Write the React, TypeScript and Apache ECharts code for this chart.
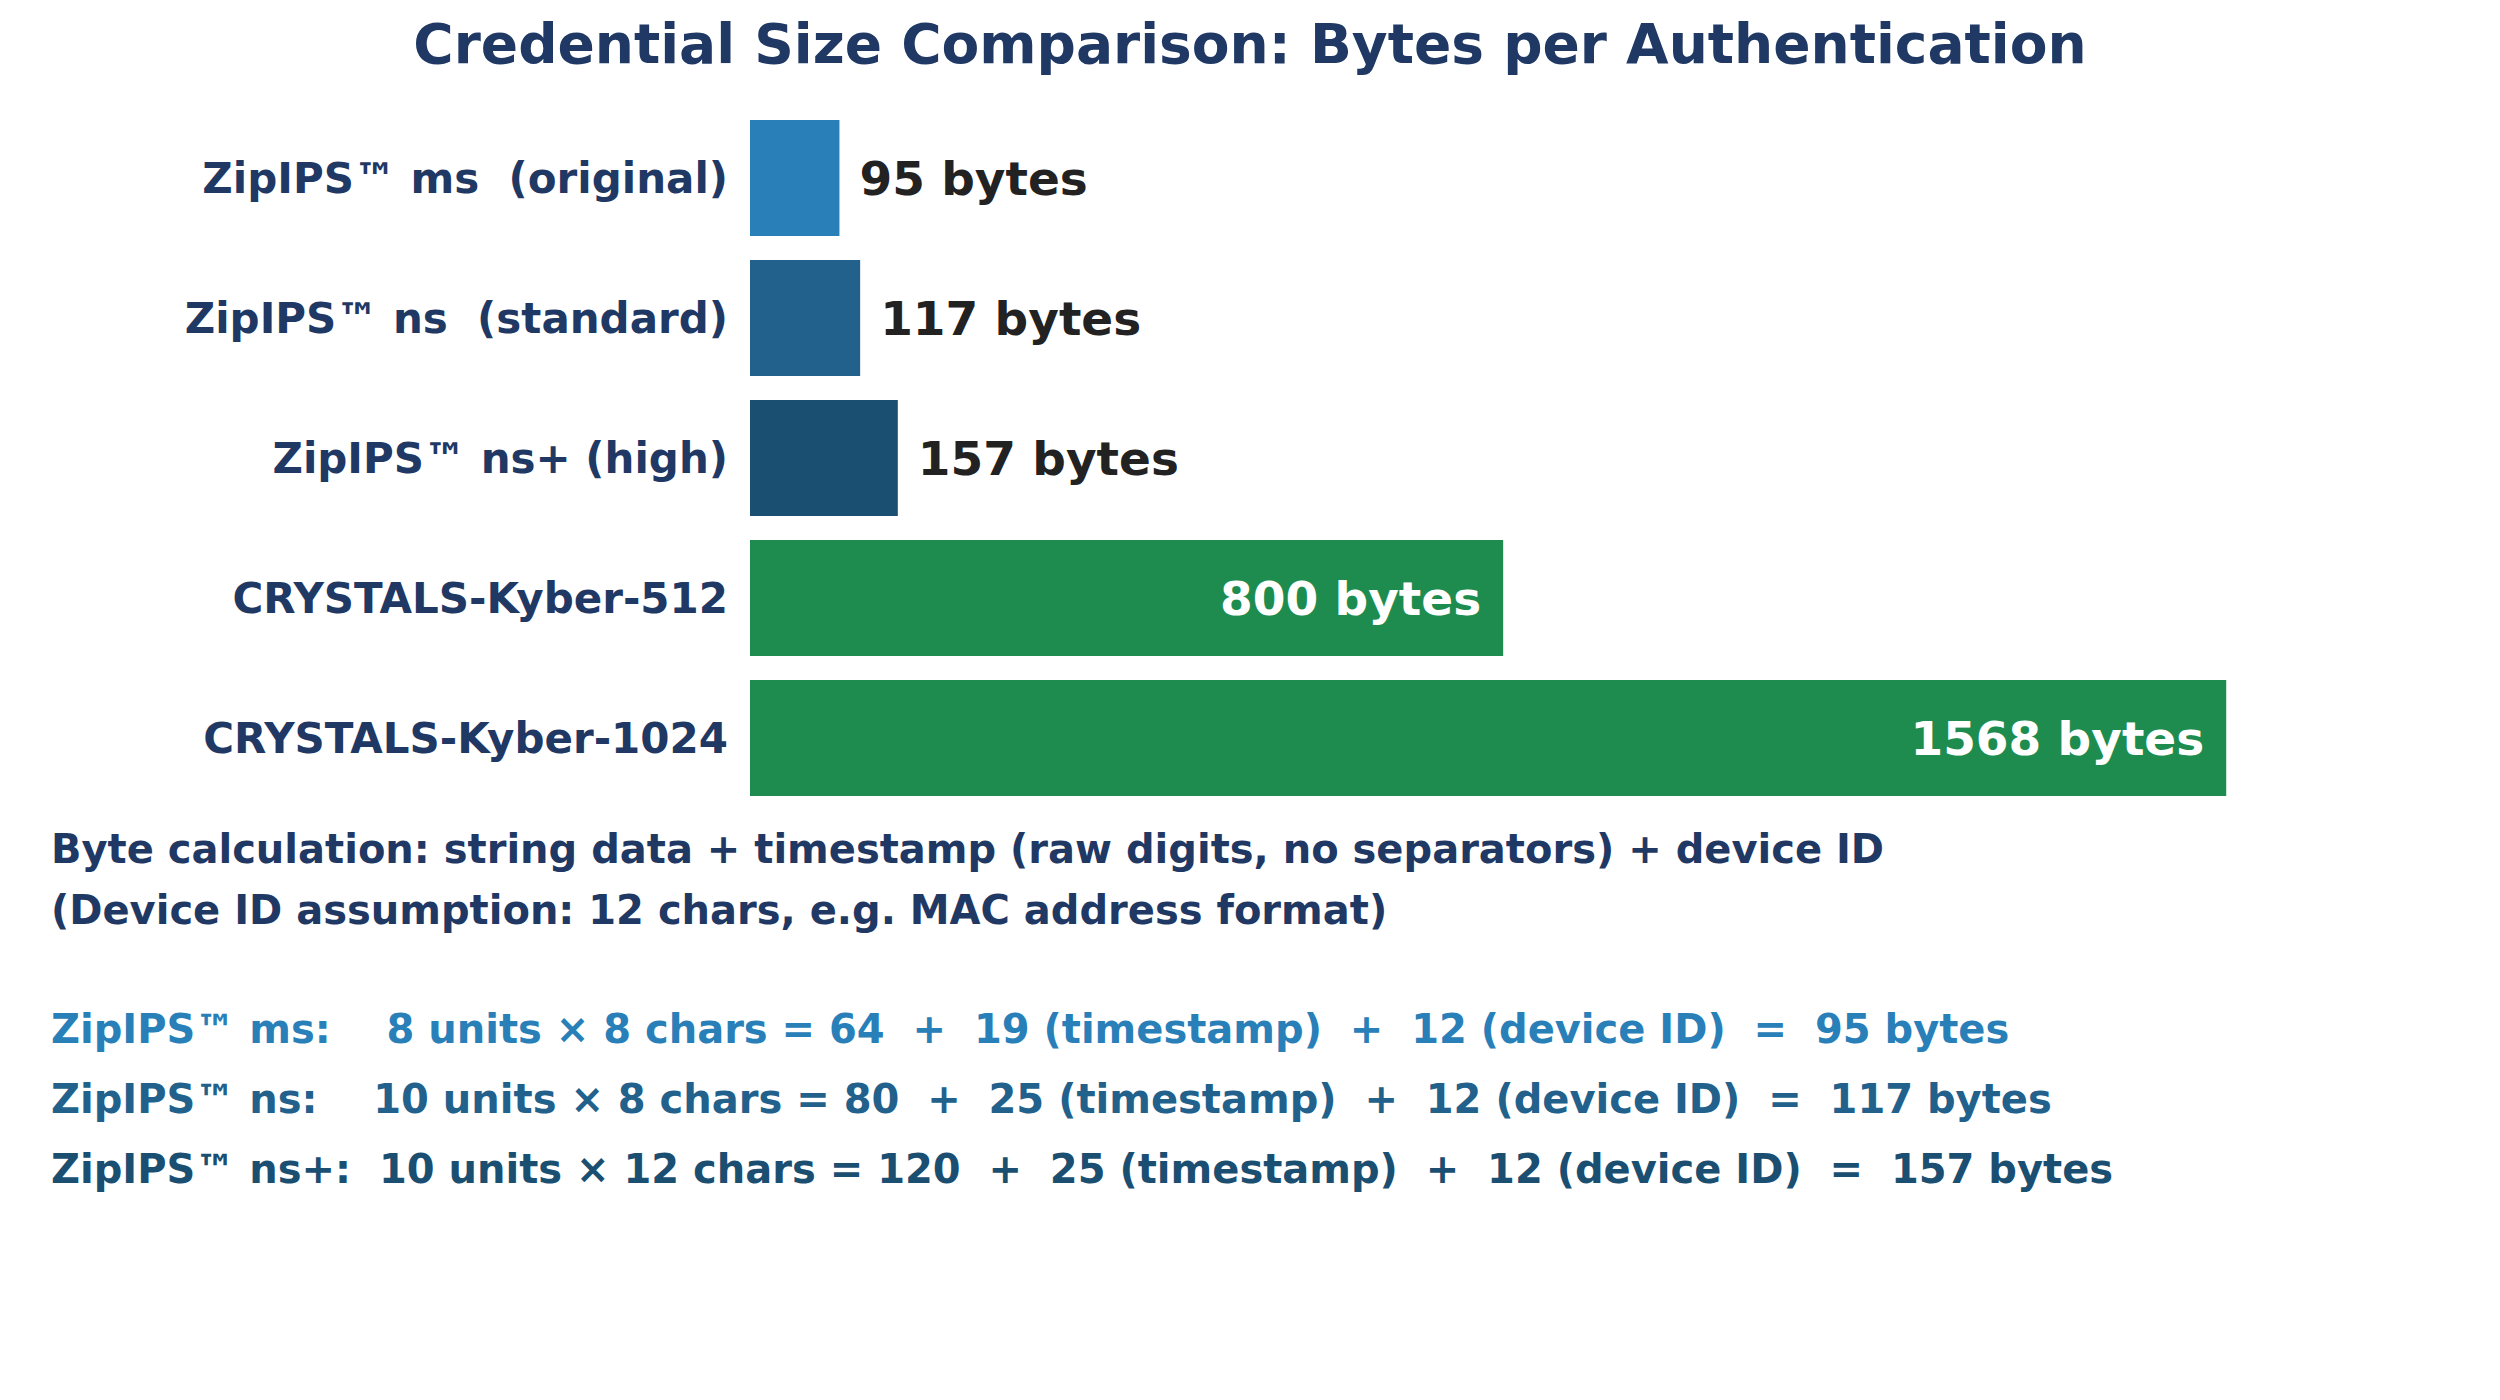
import * as echarts from 'echarts';
import { useEffect, useRef } from 'react';

const FONT = '"DejaVu Sans", sans-serif';
const NAVY = '#1f3864';

const categories = [
  'ZipIPS™ ms  (original)',
  'ZipIPS™ ns  (standard)',
  'ZipIPS™ ns+ (high)',
  'CRYSTALS-Kyber-512',
  'CRYSTALS-Kyber-1024',
];
const byteValues = [95, 117, 157, 800, 1568];
const barColors = ['#2980b9', '#21618c', '#1b4f72', '#1d8c4e', '#1d8c4e'];
// labels drawn inside the bar (long bars) vs just past its end
const labelInside = [false, false, false, true, true];

const noteLines = [
  'Byte calculation: string data + timestamp (raw digits, no separators) + device ID',
  '(Device ID assumption: 12 chars, e.g. MAC address format)',
];
const formulaLines = [
  'ZipIPS™ ms:    8 units × 8 chars = 64  +  19 (timestamp)  +  12 (device ID)  =  95 bytes',
  'ZipIPS™ ns:    10 units × 8 chars = 80  +  25 (timestamp)  +  12 (device ID)  =  117 bytes',
  'ZipIPS™ ns+:  10 units × 12 chars = 120  +  25 (timestamp)  +  12 (device ID)  =  157 bytes',
];
const formulaColors = ['#2980b9', '#21618c', '#1b4f72'];

function textEl(text: string, x: number, y: number, fontSize: number, fill: string, align = 'left') {
  return {
    type: 'text',
    x,
    y,
    style: {
      text,
      fill,
      fontSize,
      fontWeight: 'bold',
      fontFamily: FONT,
      textAlign: align,
      textVerticalAlign: 'middle',
    },
  };
}

export default function App() {
  const elRef = useRef<HTMLDivElement | null>(null);

  useEffect(() => {
    document.body.style.margin = '0';
    if (!elRef.current) return;
    const chart = echarts.init(elRef.current, undefined, { renderer: 'svg' });

    const option = {
      animation: false,
      backgroundColor: '#ffffff',
      grid: { left: 750, right: 149.5, top: 108, height: 700, containLabel: false },
      xAxis: {
        type: 'value',
        min: 0,
        max: 1700,
        show: false,
      },
      yAxis: {
        type: 'category',
        data: categories,
        inverse: true,
        axisLine: { show: false },
        axisTick: { show: false },
        splitLine: { show: false },
        axisLabel: {
          color: NAVY,
          fontSize: 42,
          fontWeight: 'bold',
          fontFamily: FONT,
          margin: 22,
        },
      },
      series: [
        {
          type: 'bar',
          barWidth: 116,
          data: byteValues.map((v, i) => ({
            value: v,
            itemStyle: { color: barColors[i] },
            label: {
              show: true,
              position: labelInside[i] ? 'insideRight' : 'right',
              distance: labelInside[i] ? 22 : 20,
              color: labelInside[i] ? '#ffffff' : '#222222',
              fontSize: 47,
              fontWeight: 'bold',
              fontFamily: FONT,
              formatter: '{c} bytes',
            },
          })),
        },
      ],
      graphic: [
        textEl('Credential Size Comparison: Bytes per Authentication', 1250, 44, 55, NAVY, 'center'),
        textEl(noteLines[0], 51, 849, 40, NAVY),
        textEl(noteLines[1], 51, 910, 40, NAVY),
        ...formulaLines.map((t, i) => textEl(t, 51, 1029 + i * 70, 40, formulaColors[i])),
      ],
    };

    chart.setOption(option as any);
    return () => chart.dispose();
  }, []);

  return <div ref={elRef} style={{ width: 2500, height: 1400 }} />;
}
